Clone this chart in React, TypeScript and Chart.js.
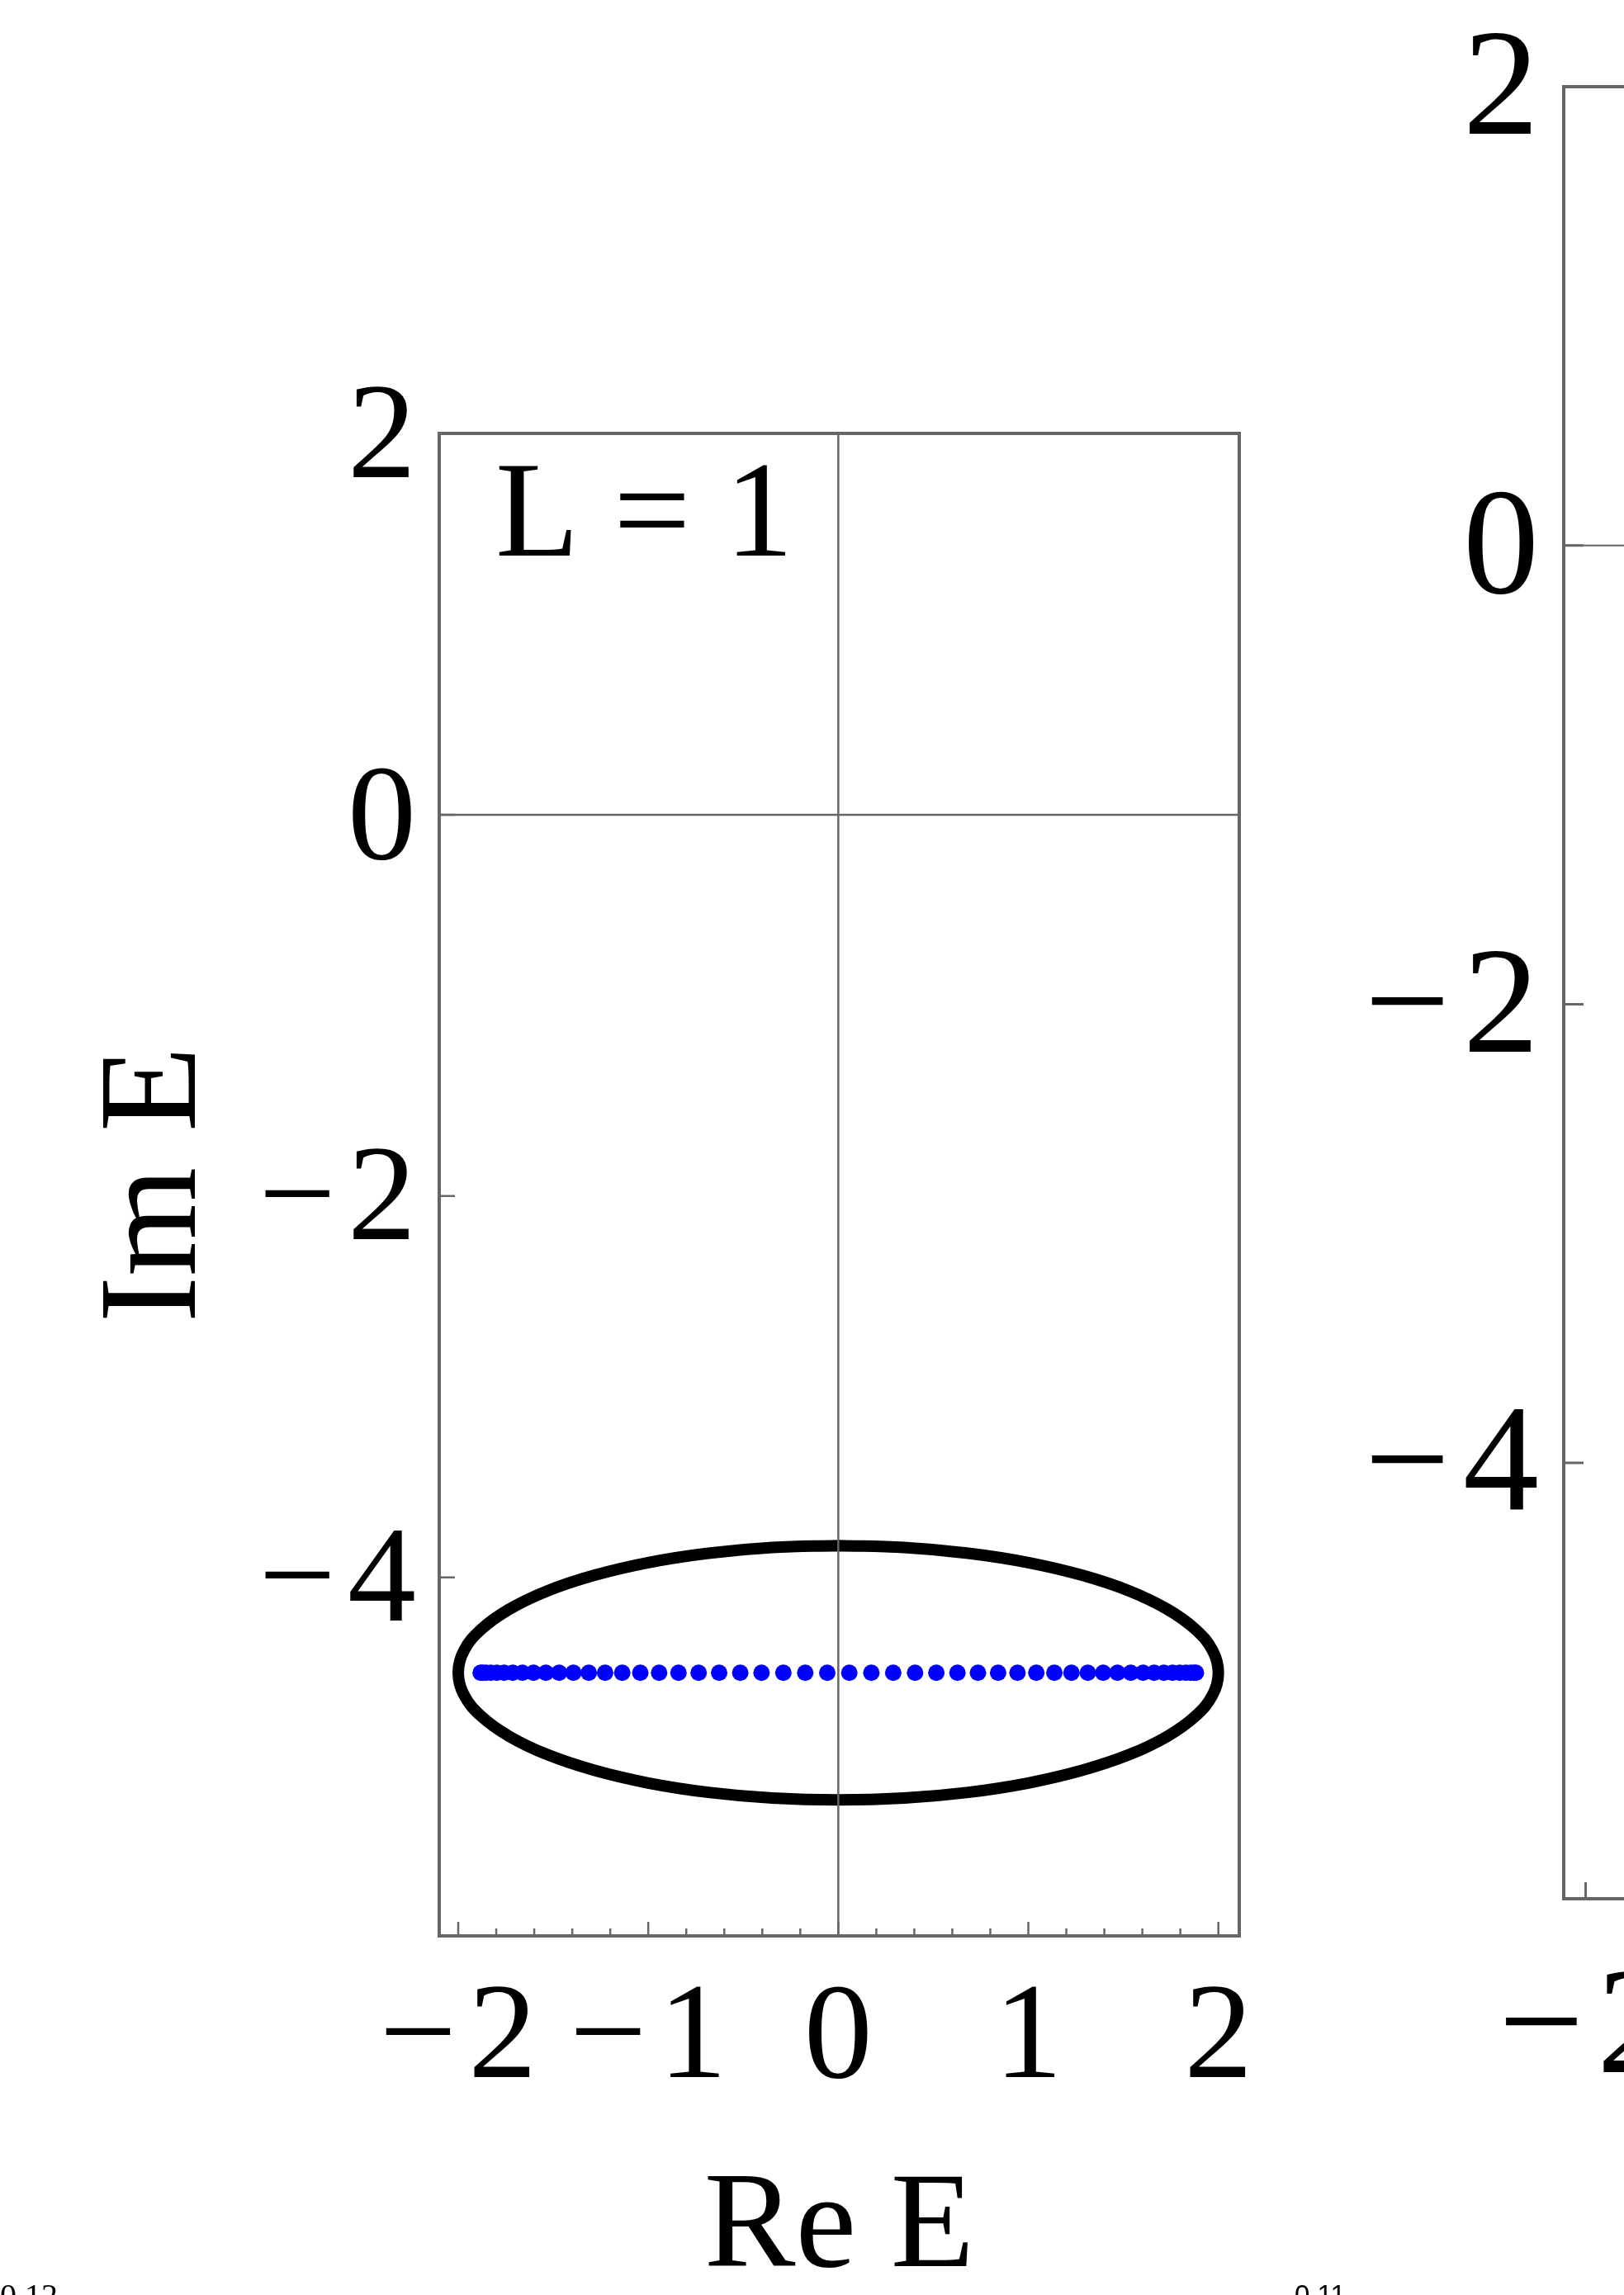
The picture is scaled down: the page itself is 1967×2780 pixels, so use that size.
import React, { FC, useEffect, useRef } from "react";
import { Chart, registerables } from "chart.js";

Chart.register(...registerables);

// open-chain eigenvalues (blue dots), all sitting on Im E = -4.5
const dotsRe = [
  -1.882, -1.872, -1.854, -1.829, -1.797, -1.759, -1.713, -1.662, -1.604, -1.539,
  -1.469, -1.394, -1.313, -1.227, -1.137, -1.042, -0.943, -0.841, -0.735, -0.627,
  -0.516, -0.404, -0.289, -0.174, -0.058, 0.058, 0.174, 0.289, 0.404, 0.516,
  0.627, 0.735, 0.841, 0.943, 1.042, 1.137, 1.227, 1.313, 1.394, 1.469,
  1.539, 1.604, 1.662, 1.713, 1.759, 1.797, 1.829, 1.854, 1.872, 1.882,
];
const dotsIm = -4.5;

// periodic loop (black), traced from the top going to the left
const loopRe = [
  0, -0.347, -0.684, -1.0, -1.286, -1.532, -1.732, -1.879, -1.97, -2.0,
  -1.97, -1.879, -1.732, -1.532, -1.286, -1.0, -0.684, -0.347, 0, 0.347,
  0.684, 1.0, 1.286, 1.532, 1.732, 1.879, 1.97, 2.0, 1.97, 1.879,
  1.732, 1.532, 1.286, 1.0, 0.684, 0.347, 0,
];
const loopIm = [
  -3.833, -3.843, -3.873, -3.922, -3.989, -4.071, -4.167, -4.272, -4.384, -4.5,
  -4.616, -4.728, -4.833, -4.929, -5.011, -5.078, -5.127, -5.157, -5.167, -5.157,
  -5.127, -5.078, -5.011, -4.929, -4.833, -4.728, -4.616, -4.5, -4.384, -4.272,
  -4.167, -4.071, -3.989, -3.922, -3.873, -3.843, -3.833,
];

const xMajorTicks = [-2, -1, 0, 1, 2];
const xTickLabels = ["−\u200A2", "−\u200A1", "0", "1", "2"];
const xMinorTicks = [-1.8, -1.6, -1.4, -1.2, -0.8, -0.6, -0.4, -0.2, 0.2, 0.4, 0.6, 0.8, 1.2, 1.4, 1.6, 1.8];
const yMajorTicks = [2, 0, -2, -4];
const yTickLabels = ["2", "0", "−\u200A2", "−\u200A4"];

const xMin = -2.1;
const xMax = 2.11;

const SERIF = "'Liberation Serif', 'Times New Roman', serif";
const GRAY = "#666666";

// frame, axes through the origin and inward ticks, drawn on top of the data
const framePlugin = {
  id: "frame",
  afterDatasetsDraw(chart: any, _args: any, opts: any) {
    const { ctx, chartArea: a, scales } = chart;
    const x = scales.x;
    const y = scales.y;
    ctx.save();
    ctx.strokeStyle = GRAY;

    ctx.lineWidth = opts.axisWidth;
    ctx.beginPath();
    const y0 = y.getPixelForValue(0);
    ctx.moveTo(a.left, y0);
    ctx.lineTo(a.right, y0);
    const x0 = x.getPixelForValue(0);
    if (x0 > a.left && x0 < a.right) {
      ctx.moveTo(x0, a.top);
      ctx.lineTo(x0, a.bottom);
    }
    ctx.stroke();

    ctx.lineWidth = opts.tickWidth;
    ctx.beginPath();
    xMajorTicks.forEach((v) => {
      const p = x.getPixelForValue(v);
      ctx.moveTo(p, a.bottom);
      ctx.lineTo(p, a.bottom - opts.majorLen);
    });
    xMinorTicks.forEach((v) => {
      const p = x.getPixelForValue(v);
      ctx.moveTo(p, a.bottom);
      ctx.lineTo(p, a.bottom - opts.minorLen);
    });
    yMajorTicks.forEach((v) => {
      const p = y.getPixelForValue(v);
      ctx.moveTo(a.left, p);
      ctx.lineTo(a.left + opts.yTickLen, p);
    });
    ctx.stroke();

    ctx.lineWidth = opts.frameWidth;
    ctx.strokeRect(a.left, a.top, a.right - a.left, a.bottom - a.top);

    if (opts.label) {
      ctx.fillStyle = "#000";
      ctx.font = `${opts.labelSize}px ${SERIF}`;
      ctx.textBaseline = "alphabetic";
      ctx.textAlign = "left";
      ctx.fillText(opts.label, a.left + opts.labelDx, a.top + opts.labelDy);
    }
    ctx.restore();
  },
};

const makeScales = (yMin: number, s: any) => ({
  x: {
    type: "linear",
    min: xMin,
    max: xMax,
    grid: { display: false, drawTicks: false },
    border: { display: false },
    afterBuildTicks: (scale: any) => {
      scale.ticks = xMajorTicks.map((value) => ({ value }));
    },
    afterFit: (scale: any) => {
      scale.height = s.xHeight;
    },
    ticks: {
      autoSkip: false,
      maxRotation: 0,
      minRotation: 0,
      padding: s.xPad,
      color: "#000",
      font: { family: SERIF, size: s.tickSize, lineHeight: 1 },
      callback: (value: any) => xTickLabels[xMajorTicks.indexOf(Number(value))],
    },
    title: {
      display: !!s.xTitle,
      text: s.xTitle,
      color: "#000",
      font: { family: SERIF, size: s.titleSize, lineHeight: 0.9 },
      padding: { top: 0, bottom: 4 },
    },
  },
  y: {
    type: "linear",
    min: yMin,
    max: 2,
    grid: { display: false, drawTicks: false },
    border: { display: false },
    afterBuildTicks: (scale: any) => {
      scale.ticks = yMajorTicks.map((value) => ({ value }));
    },
    afterFit: (scale: any) => {
      scale.width = s.yWidth;
    },
    ticks: {
      autoSkip: false,
      padding: s.yPad,
      labelOffset: 9,
      color: "#000",
      // small line height so the top label does not push the plot area down
      font: { family: SERIF, size: s.tickSize, lineHeight: 0.4 },
      callback: (value: any) => yTickLabels[yMajorTicks.indexOf(Number(value))],
    },
    title: {
      display: !!s.yTitle,
      text: s.yTitle,
      color: "#000",
      font: { family: SERIF, size: s.titleSize + 4, lineHeight: 1 },
      padding: { top: 106, bottom: 0 },
    },
  },
});

const App: FC = () => {
  const leftRef = useRef<HTMLCanvasElement>(null); // L = 1 panel
  const rightRef = useRef<HTMLCanvasElement>(null); // next panel, mostly off the page

  useEffect(() => {
    if (!leftRef.current) return;
    const chart = new Chart(leftRef.current, {
      type: "scatter",
      data: {
        datasets: [
          {
            label: "OBC",
            data: dotsRe.map((re) => ({ x: re, y: dotsIm })),
            pointRadius: 10,
            pointBackgroundColor: "#0000ff",
            pointBorderWidth: 0,
            showLine: false,
          },
          {
            label: "PBC",
            data: loopRe.map((re, i) => ({ x: re, y: loopIm[i] })),
            showLine: true,
            borderColor: "#000",
            borderWidth: 14,
            borderCapStyle: "round",
            pointRadius: 0,
            tension: 0.4,
            fill: false,
          },
        ],
      },
      options: {
        animation: false,
        responsive: true,
        maintainAspectRatio: false,
        events: [],
        layout: { padding: { left: 0, top: 525, right: 99, bottom: 0 } },
        scales: makeScales(-5.88, {
          xHeight: 435,
          yWidth: 532,
          xPad: 44,
          yPad: 28,
          tickSize: 166,
          titleSize: 166,
          xTitle: "Re E",
          yTitle: "Im E",
        }) as any,
        plugins: {
          legend: { display: false },
          tooltip: { enabled: false },
          frame: {
            axisWidth: 2.5,
            tickWidth: 2.5,
            frameWidth: 4,
            majorLen: 17,
            minorLen: 9,
            yTickLen: 19,
            label: "L = 1",
            labelSize: 166,
            labelDx: 68,
            labelDy: 148,
          },
        } as any,
      },
      plugins: [framePlugin],
    });
    return () => {
      chart.destroy();
    };
  }, []);

  useEffect(() => {
    if (!rightRef.current) return;
    const chart = new Chart(rightRef.current, {
      type: "scatter",
      data: { datasets: [] },
      options: {
        animation: false,
        responsive: true,
        maintainAspectRatio: false,
        events: [],
        layout: { padding: { left: 0, top: 105, right: 36, bottom: 0 } },
        scales: makeScales(-5.9, {
          xHeight: 480,
          yWidth: 294,
          xPad: 70,
          yPad: 30,
          tickSize: 184,
          titleSize: 184,
          xTitle: "",
          yTitle: "",
        }) as any,
        plugins: {
          legend: { display: false },
          tooltip: { enabled: false },
          frame: {
            axisWidth: 2,
            tickWidth: 3,
            frameWidth: 4,
            majorLen: 20,
            minorLen: 11,
            yTickLen: 24,
            label: "",
          },
        } as any,
      },
      plugins: [framePlugin],
    });
    return () => {
      chart.destroy();
    };
  }, []);

  return (
    <div
      style={{
        position: "absolute",
        left: 0,
        top: 0,
        width: 1967,
        height: 2780,
        overflow: "hidden",
        background: "#fff",
      }}
    >
      <div style={{ position: "absolute", left: 0, top: 0, width: 1600, height: 2780 }}>
        <canvas ref={leftRef}></canvas>
      </div>
      <div style={{ position: "absolute", left: 1600, top: 0, width: 1500, height: 2780 }}>
        <canvas ref={rightRef}></canvas>
      </div>
      {/* tops of the labels of the row below, cut by the page edge */}
      <span
        style={{
          position: "absolute",
          left: 0,
          top: 2761,
          fontFamily: SERIF,
          fontSize: 40,
          lineHeight: 1,
          color: "#000",
        }}
      >
        0.12
      </span>
      <span
        style={{
          position: "absolute",
          left: 1568,
          top: 2763,
          fontFamily: "'Liberation Sans', sans-serif",
          fontSize: 33,
          lineHeight: 1,
          color: "#000",
        }}
      >
        0.11
      </span>
    </div>
  );
};

export default App;
